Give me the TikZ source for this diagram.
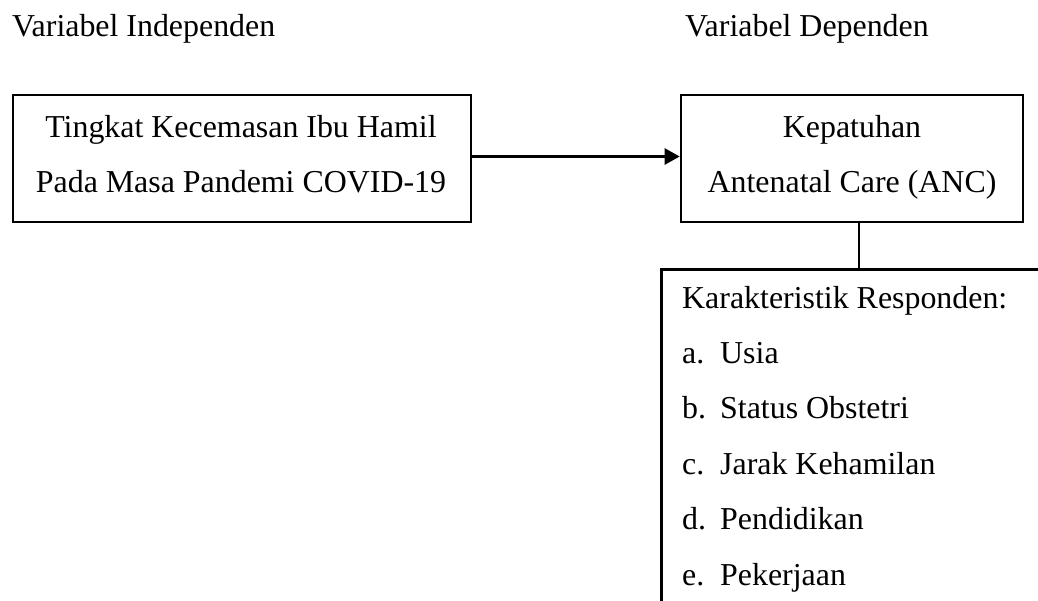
\documentclass[tikz,border=0pt]{standalone}
\usepackage{fontspec}
\setmainfont{Liberation Serif}
\usetikzlibrary{arrows.meta}
\begin{document}
\begin{tikzpicture}[x=1pt,y=-1pt,
  every node/.style={font=\fontsize{31.9}{55.4}\selectfont},
  box/.style={draw=black,line width=2.6pt,rectangle,inner sep=0pt},
  txt/.style={inner sep=0pt,anchor=base},
  txtl/.style={inner sep=0pt,anchor=base west},
  link/.style={draw=black,line width=1.4pt},
  arr/.style={draw=black,line width=2.6pt,-{Triangle[length=15pt,width=16pt]}}]
\clip (0,0) rectangle (1038,600);
\fill[white] (0,0) rectangle (1038,600);
% headers
\node[txtl] (hind) at (12,36) {Variabel Independen};
\node[txtl] (hdep) at (685,36) {Variabel Dependen};
% boxes
\node[box,minimum width=458pt,minimum height=127pt] (b1) at (242,158.5) {};
\node[box,minimum width=342pt,minimum height=127pt] (b2) at (852,158.5) {};
\node[box,minimum width=420pt,minimum height=360pt,anchor=north west] (b3) at (660,268) {};
% box texts
\node[txt] (t1a) at (241,137) {Tingkat Kecemasan Ibu Hamil};
\node[txt] (t1b) at (241,192) {Pada Masa Pandemi COVID-19};
\node[txt] (t2a) at (852,137) {Kepatuhan};
\node[txt] (t2b) at (852,192) {Antenatal Care (ANC)};
\node[txtl] (t3) at (682,308) {Karakteristik Responden:};
\node[txtl] (la) at (682,363.4) {a.};
\node[txtl] (ia) at (720,363.4) {Usia};
\node[txtl] (lb) at (682,418.8) {b.};
\node[txtl] (ib) at (720,418.8) {Status Obstetri};
\node[txtl] (lc) at (682,474.2) {c.};
\node[txtl] (ic) at (720,474.2) {Jarak Kehamilan};
\node[txtl] (ld) at (682,529.6) {d.};
\node[txtl] (id) at (720,529.6) {Pendidikan};
\node[txtl] (le) at (682,585) {e.};
\node[txtl] (ie) at (720,585) {Pekerjaan};
% connectors
\draw[arr] ([yshift=2pt]b1.east) -- ([yshift=2pt]b2.west);
\draw[link] ([xshift=7pt]b2.south) -- ([xshift=7pt]b2.south |- b3.north);
\end{tikzpicture}
\end{document}
